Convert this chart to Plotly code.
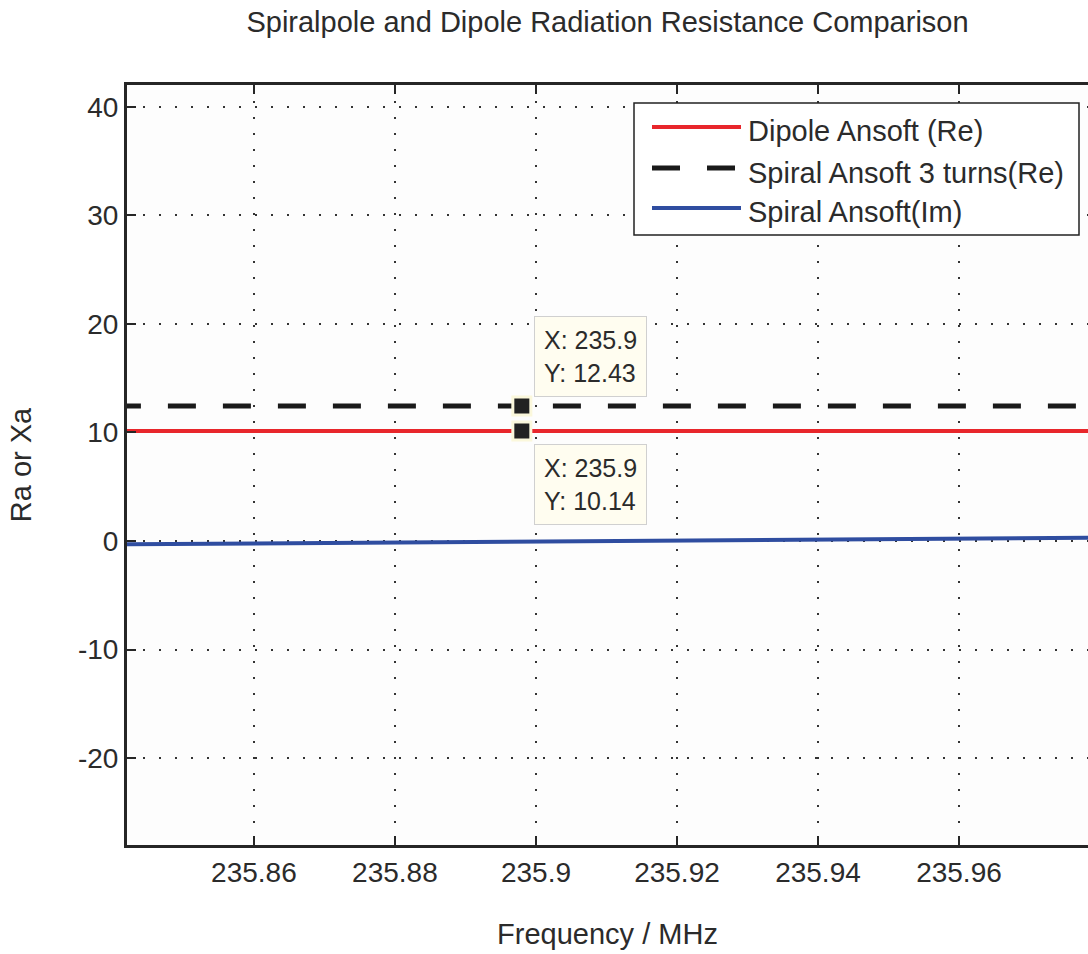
import plotly.graph_objects as go

# ---- data ----
freq_const = [235.84, 235.98]
dipole_re = [10.14, 10.14]
spiral_re = [12.43, 12.43]
freq_im = [235.84, 235.86, 235.88, 235.90, 235.92, 235.94, 235.96, 235.98]
spiral_im = [-0.32, -0.24, -0.15, -0.06, 0.03, 0.12, 0.21, 0.30]
tip_x = 235.898
tip_labels = ["X: 235.9<br>Y: 12.43", "X: 235.9<br>Y: 10.14"]
tip_y = [12.43, 10.14]
x_ticks = [235.86, 235.88, 235.90, 235.92, 235.94, 235.96]
x_ticktext = ["235.86", "235.88", "235.9", "235.92", "235.94", "235.96"]
y_ticks = [-20, -10, 0, 10, 20, 30, 40]
y_ticktext = ["-20", "-10", "0", "10", "20", "30", "40"]
legend_names = ["Dipole Ansoft (Re)", "Spiral Ansoft 3 turns(Re)", "Spiral Ansoft(Im)"]

RED = "#e8262b"
BLACK = "#1a1a1a"
BLUE = "#2f4da0"
TXT = "#2b2b2b"
FONT = "Liberation Sans, Arial, sans-serif"

fig = go.Figure()
fig.add_trace(go.Scatter(x=freq_const, y=dipole_re, mode="lines",
                         line=dict(color=RED, width=4), name=legend_names[0], showlegend=False))
fig.add_trace(go.Scatter(x=freq_const, y=spiral_re, mode="lines",
                         line=dict(color=BLACK, width=5, dash="28px,27px"), name=legend_names[1], showlegend=False))
fig.add_trace(go.Scatter(x=freq_im, y=spiral_im, mode="lines",
                         line=dict(color=BLUE, width=4), name=legend_names[2], showlegend=False))
# data tip markers
fig.add_trace(go.Scatter(x=[tip_x, tip_x], y=tip_y, mode="markers",
                         marker=dict(symbol="square", size=18, color="#222222",
                                     line=dict(color="#fbf8dc", width=3)),
                         showlegend=False, hoverinfo="skip"))

# data tip boxes
fig.add_annotation(x=tip_x, y=tip_y[0], text=tip_labels[0], showarrow=False,
                   xanchor="left", yanchor="bottom", xshift=12, yshift=9, align="left",
                   font=dict(family=FONT, size=25, color=TXT),
                   bgcolor="#fffdf0", bordercolor="#d0d0d0", borderwidth=1, borderpad=9)
fig.add_annotation(x=tip_x, y=tip_y[1], text=tip_labels[1], showarrow=False,
                   xanchor="left", yanchor="top", xshift=12, yshift=-13, align="left",
                   font=dict(family=FONT, size=25, color=TXT),
                   bgcolor="#fffdf0", bordercolor="#d0d0d0", borderwidth=1, borderpad=9)

# manual legend (MATLAB style)
W, H = 1088, 954
ml, mr, mt, mb = 127, 0, 85, 109
pw, ph = W - ml - mr, H - mt - mb
def px(x):
    return (x - ml) / pw
def py(y):
    return 1 - (y - mt) / ph

fig.add_shape(type="rect", xref="paper", yref="paper",
              x0=px(634), x1=px(1079), y0=py(235), y1=py(103),
              line=dict(color="#222222", width=1.5), fillcolor="white", layer="above")
leg_colors = [RED, BLACK, BLUE]
leg_dash = ["solid", "28px,27px", "solid"]
leg_width = [4, 5, 4]
leg_line_y = [127, 168, 208]
leg_text_y = [131, 173, 212]
for i in range(3):
    fig.add_shape(type="line", xref="paper", yref="paper",
                  x0=px(652), x1=px(741), y0=py(leg_line_y[i]), y1=py(leg_line_y[i]),
                  line=dict(color=leg_colors[i], width=leg_width[i], dash=leg_dash[i]), layer="above")
    fig.add_annotation(xref="paper", yref="paper", x=px(746), y=py(leg_text_y[i]),
                       text=legend_names[i], showarrow=False, xanchor="left", yanchor="middle",
                       font=dict(family=FONT, size=29, color=TXT))

fig.update_layout(
    width=W, height=H,
    margin=dict(l=ml, r=mr, t=mt, b=mb),
    paper_bgcolor="white", plot_bgcolor="#fdfdfd",
    font=dict(family=FONT, color=TXT),
    showlegend=False,
    title=dict(text="Spiralpole and Dipole Radiation Resistance Comparison",
               x=(ml + pw / 2) / W, xanchor="center", y=1 - 22 / H, yanchor="middle",
               font=dict(family=FONT, size=29, color=TXT)),
)
fig.update_xaxes(
    range=[235.842, 235.9783], tickvals=x_ticks, ticktext=x_ticktext,
    showgrid=True, gridcolor="#333333", gridwidth=2, griddash="2px,14px",
    showline=True, linecolor="#262626", linewidth=3, mirror="ticks",
    ticks="inside", ticklen=9, tickwidth=1.5, tickcolor="#262626",
    tickfont=dict(family=FONT, size=28, color=TXT),
    zeroline=False,
    title=dict(text="Frequency / MHz", font=dict(family=FONT, size=29, color=TXT), standoff=38),
)
fig.update_yaxes(
    range=[-28, 42], tickvals=y_ticks, ticktext=y_ticktext,
    showgrid=True, gridcolor="#333333", gridwidth=2, griddash="2px,14px",
    showline=True, linecolor="#262626", linewidth=3, mirror=False,
    ticks="inside", ticklen=9, tickwidth=1.5, tickcolor="#262626",
    tickfont=dict(family=FONT, size=28, color=TXT),
    zeroline=False,
    title=dict(text="Ra or Xa", font=dict(family=FONT, size=29, color=TXT), standoff=38),
)

fig.write_html("out.html")
